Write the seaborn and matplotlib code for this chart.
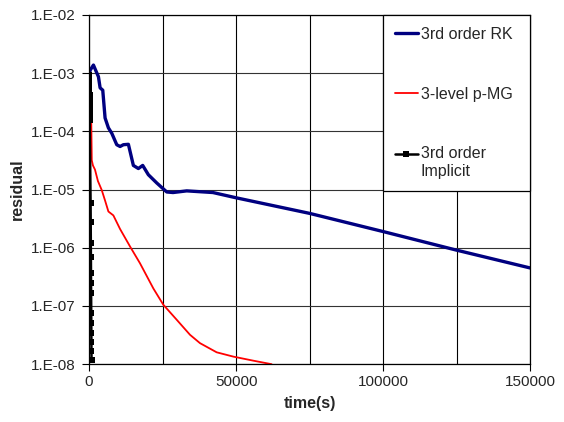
import matplotlib
matplotlib.use("Agg")
import matplotlib.pyplot as plt
import matplotlib.ticker as mticker
from matplotlib.legend_handler import HandlerLine2D
import numpy as np
import pandas as pd
import seaborn as sns

# 3rd order RK
rk_time = [0, 340, 1470, 2400, 3170, 3740, 4640, 5430, 6560, 7700, 9400, 10530,
           11660, 13360, 15050, 16750, 18230, 20150, 23000, 26400, 28540, 33200,
           42100, 50150, 75000, 100000, 125000, 150000]
rk_res = [8.3e-4, 1.12e-3, 1.38e-3, 1.07e-3, 8.7e-4, 5.6e-4, 5.1e-4, 1.7e-4, 1.15e-4,
          9.3e-5, 5.9e-5, 5.5e-5, 5.9e-5, 6.0e-5, 2.6e-5, 2.3e-5, 2.6e-5, 1.8e-5,
          1.3e-5, 9.1e-6, 8.9e-6, 9.5e-6, 8.9e-6, 7.2e-6, 3.9e-6, 1.9e-6, 9.1e-7, 4.5e-7]

# 3-level p-MG
mg_time = [700, 900, 1300, 2000, 3000, 4300, 5500, 6560, 8250, 10530, 13930,
           17320, 21850, 25240, 29790, 34310, 37700, 43380, 49020, 55810, 62060]
mg_res = [2.0e-4, 3.2e-5, 2.6e-5, 2.2e-5, 1.4e-5, 9.8e-6, 6.3e-6, 4.2e-6,
          3.6e-6, 2.1e-6, 1.05e-6, 5.4e-7, 2.0e-7, 1.05e-7, 5.8e-8, 3.2e-8, 2.3e-8,
          1.6e-8, 1.35e-8, 1.15e-8, 1.0e-8]

# 3rd order Implicit
imp_time = [100, 110, 120, 130, 140, 150, 160, 170, 180, 190, 200, 500, 540, 580,
            610, 640, 660, 680, 720, 740, 760, 780, 800, 820]
imp_res = [9.3e-4, 7.6e-4, 6.3e-4, 5.1e-4, 4.3e-4, 3.5e-4, 3.0e-4, 2.5e-4, 2.1e-4,
           1.8e-4, 1.6e-4, 5.9e-6, 2.8e-6, 1.2e-6, 6.9e-7, 3.7e-7, 2.5e-7, 1.7e-7,
           7.6e-8, 5.1e-8, 3.5e-8, 2.4e-8, 1.7e-8, 1.2e-8]

FS = 11.5

sns.set_style("white")
plt.rcParams["font.family"] = ["Liberation Sans", "DejaVu Sans"]


class FirstLineHandler(HandlerLine2D):
    # put the legend key level with the first line of a two-line label
    def create_artists(self, legend, orig_handle, xdescent, ydescent, width,
                       height, fontsize, trans):
        arts = super().create_artists(legend, orig_handle, xdescent, ydescent,
                                      width, height, fontsize, trans)
        for a in arts:
            a.set_ydata(np.asarray(a.get_ydata()) + 0.58 * fontsize)
        return arts


fig = plt.figure(figsize=(5.64, 4.22), dpi=100)
ax = fig.add_axes([0.158, 0.137, 0.782, 0.8275])

rk = pd.DataFrame({"t": rk_time, "r": rk_res})
mg = pd.DataFrame({"t": mg_time, "r": mg_res})
imp = pd.DataFrame({"t": imp_time, "r": imp_res})

sns.lineplot(data=rk, x="t", y="r", ax=ax, color="#000080", lw=2.4,
             estimator=None, sort=False, label="3rd order RK")
sns.lineplot(data=mg, x="t", y="r", ax=ax, color="#FF0000", lw=1.3,
             estimator=None, sort=False, label="3-level p-MG")
sns.lineplot(data=imp, x="t", y="r", ax=ax, color="black", lw=1.8,
             marker="s", markersize=4.5, markeredgewidth=0,
             estimator=None, sort=False, label="3rd order\nImplicit")

ax.set_yscale("log")
ax.set_ylim(1e-8, 1e-2)
ax.set_xlim(0, 150000)
ax.set_yticks([10.0 ** k for k in range(-8, -1)])
ax.yaxis.set_minor_locator(mticker.NullLocator())
ax.yaxis.set_major_formatter(mticker.FuncFormatter(lambda v, p: f"1.E-{int(round(-np.log10(v))):02d}"))
ax.set_xticks([0, 50000, 100000, 150000])
ax.set_xticks([25000, 75000, 125000], minor=True)
ax.xaxis.set_major_formatter(mticker.FuncFormatter(lambda v, p: f"{int(v)}"))

ax.grid(True, which="both", axis="x", color="black", lw=0.8)
ax.grid(True, which="major", axis="y", color="#333333", lw=0.8)
ax.tick_params(axis="both", which="major", direction="out", length=5, width=0.8,
               labelsize=11, color="black", bottom=True, left=True, pad=3)
ax.tick_params(axis="y", which="major", pad=5)
ax.tick_params(axis="x", which="minor", length=0)
for s in ax.spines.values():
    s.set_color("black")
    s.set_linewidth(0.9)

ax.set_xlabel("time(s)", fontsize=FS, fontweight="bold", labelpad=5)
ax.set_ylabel("residual", fontsize=FS, fontweight="bold", labelpad=4)

handles, labels = ax.get_legend_handles_labels()
leg = ax.legend(handles, labels, loc="upper left",
                bbox_to_anchor=(0.667, 1.0, 0.333, 0.0),
                mode="expand", frameon=True, fancybox=False, fontsize=FS,
                handlelength=1.4, handletextpad=0.2, labelspacing=2.8,
                borderpad=0.75, borderaxespad=0,
                handler_map={handles[2]: FirstLineHandler()})
leg.get_frame().set_edgecolor("black")
leg.get_frame().set_linewidth(0.9)
leg.get_frame().set_alpha(1)

fig.savefig("out.png", dpi=100)
